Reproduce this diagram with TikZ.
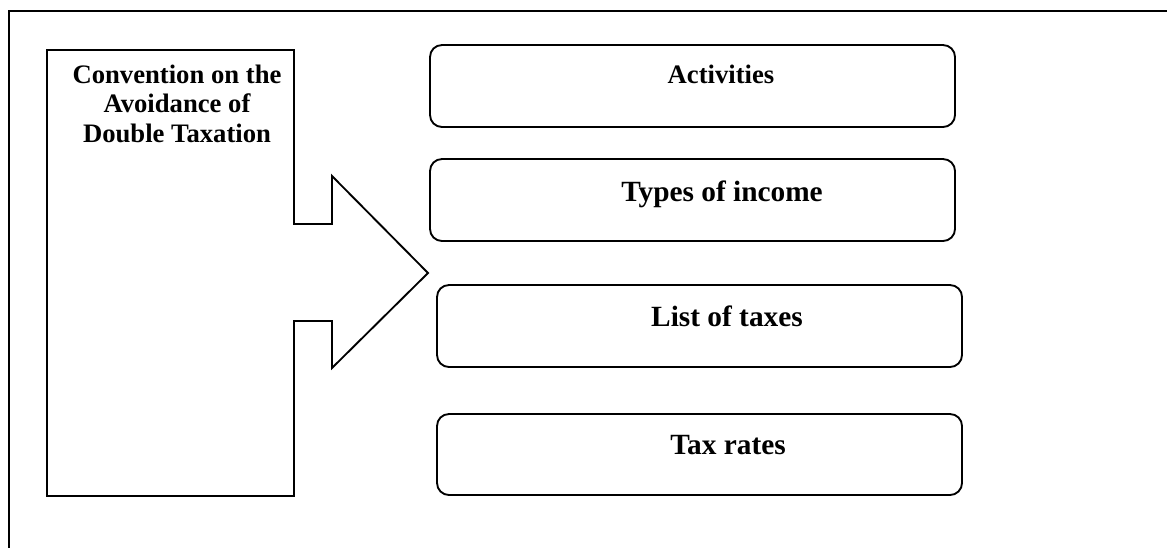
\documentclass[tikz,border=0pt]{standalone}
\usepackage{fontspec}
\setmainfont{Liberation Serif}
\begin{document}
\begin{tikzpicture}[x=0.75pt,y=-0.75pt,
  frameline/.style={line width=1.6pt},
  shapeline/.style={line width=1.4pt},
  rbox/.style={draw,line width=1.4pt,rounded corners=9pt,minimum width=393.75pt,minimum height=61.5pt,inner sep=0pt},
  lbl/.style={anchor=base,inner sep=0pt,font=\fontsize{22}{26}\selectfont\bfseries},
  lblsmall/.style={anchor=base,inner sep=0pt,font=\fontsize{20}{24}\selectfont\bfseries}]
\useasboundingbox (0,0) rectangle (1167,547);
\clip (0,0) rectangle (1167,547);
% outer frame (partly cut off)
\draw[frameline] (9,560) -- (9,11) -- (1180,11);
% left box with arrow
\draw[shapeline,line join=miter] (47,50) -- (294,50) -- (294,224) -- (332,224) -- (332,176)
  -- (428,273) -- (332,368) -- (332,321) -- (294,321) -- (294,496) -- (47,496) -- cycle;
\node[anchor=base,inner sep=0pt,align=center,font=\fontsize{20}{22.1}\selectfont\bfseries] (conv) at (177,142)
  {Convention on the\\Avoidance of\\Double Taxation};
% right boxes
\node[rbox] (b1) at (692.5,86) {};
\node[rbox] (b2) at (692.5,200) {};
\node[rbox] (b3) at (699.5,326) {};
\node[rbox,minimum height=60.75pt] (b4) at (699.5,454.5) {};
\node[lblsmall] (t1) at (721,83) {Activities};
\node[lbl] (t2) at (722,201) {Types of income};
\node[lbl] (t3) at (727,326) {List of taxes};
\node[lbl] (t4) at (728,454) {Tax rates};
\end{tikzpicture}
\end{document}
